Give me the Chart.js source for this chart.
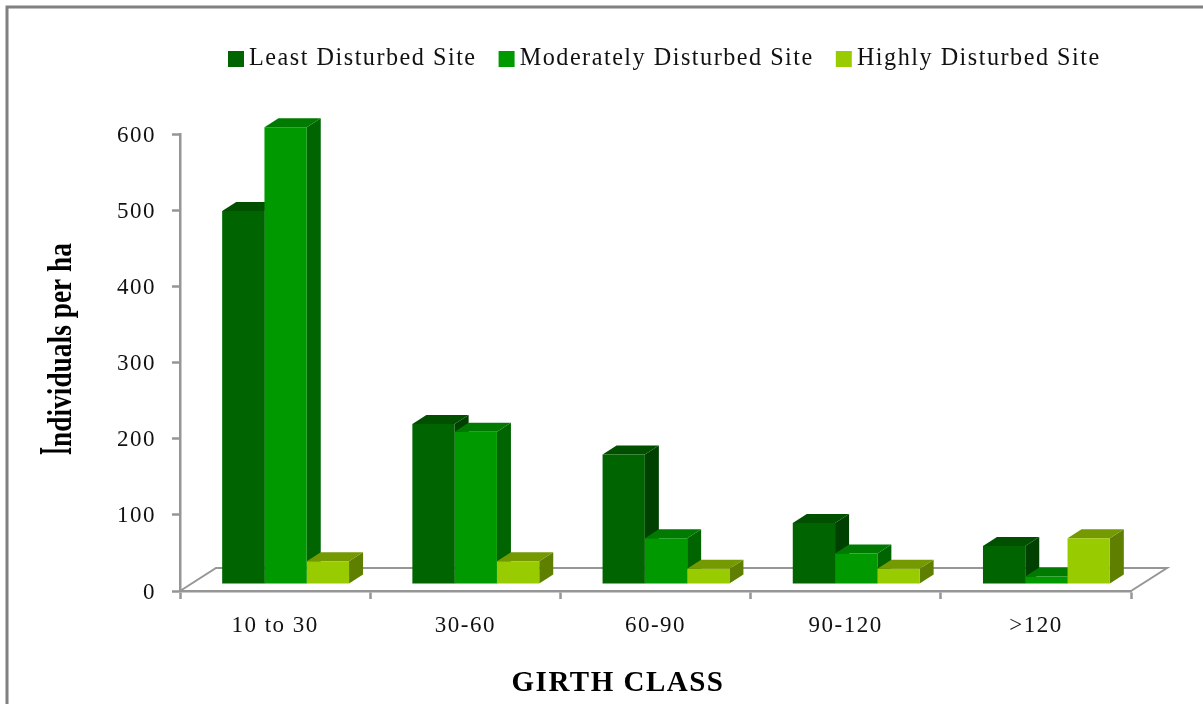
<!DOCTYPE html>
<html>
<head>
<meta charset="utf-8">
<title>Girth class</title>
<script src="https://cdn.jsdelivr.net/npm/chart.js@4"></script>
<style>
  html, body { margin: 0; padding: 0; background: #fff; }
  canvas { display: block; }
</style>
</head>
<body>
<canvas id="chart" width="1203" height="704"></canvas>
<script>
const categories = ["10 to 30", "30-60", "60-90", "90-120", ">120"];
const seriesNames = ["Least Disturbed Site", "Moderately Disturbed Site", "Highly Disturbed Site"];
const leastDisturbed = [490, 210, 170, 80, 50];
const moderatelyDisturbed = [600, 200, 60, 40, 10];
const highlyDisturbed = [30, 30, 20, 20, 60];
const yMax = 600;
const yStep = 100;
const xTitle = "GIRTH CLASS";
const yTitle = "Individuals per ha";

const frontColors = ["#006400", "#009900", "#99CC00"];
const topColors = ["#005000", "#007A00", "#759900"];
const sideColors = ["#004000", "#006400", "#5F7F00"];
const axisColor = "#969696";
const serif = "'Liberation Serif', serif";

// bars sit part way into the floor, floor itself is a skewed frame
const barShift = { x: 10.5, y: -7 };
const barDepth = { x: 14, y: -9 };
const floorDepth = { x: 36, y: -23 };

function face(ctx, color, pts) {
  ctx.fillStyle = color;
  ctx.beginPath();
  pts.forEach((p, i) => (i ? ctx.lineTo(p[0], p[1]) : ctx.moveTo(p[0], p[1])));
  ctx.closePath();
  ctx.fill();
}

const look3d = {
  id: "look3d",
  beforeUpdate(chart) {
    chart.ctx.letterSpacing = "1.5px";
  },
  afterLayout(chart) {
    chart.legend.left = 206;
    chart.legend.right = chart.width;
    chart.legend.top = 18;
  },
  beforeDraw(chart) {
    const { ctx, width, height } = chart;
    ctx.save();
    ctx.strokeStyle = "#808080";
    ctx.lineWidth = 3;
    ctx.beginPath();
    ctx.moveTo(7, height);
    ctx.lineTo(7, 7);
    ctx.lineTo(width, 7);
    ctx.stroke();
    ctx.restore();
  },
  beforeDatasetsDraw(chart) {
    const { ctx, chartArea } = chart;
    const y0 = chart.scales.y.getPixelForValue(0);
    ctx.save();
    ctx.strokeStyle = axisColor;
    ctx.lineWidth = 2;
    ctx.beginPath();
    ctx.moveTo(chartArea.left, y0);
    ctx.lineTo(chartArea.left + floorDepth.x, y0 + floorDepth.y);
    ctx.lineTo(chartArea.right + floorDepth.x, y0 + floorDepth.y);
    ctx.lineTo(chartArea.right, y0);
    ctx.stroke();

    // side and top faces first, the library paints the front faces over them
    ctx.translate(barShift.x, barShift.y);
    chart.data.datasets.forEach((ds, i) => {
      chart.getDatasetMeta(i).data.forEach((bar) => {
        const { x, y, base, width } = bar.getProps(["x", "y", "base", "width"], true);
        const r = x + width / 2;
        const l = x - width / 2;
        face(ctx, sideColors[i], [[r, y], [r + barDepth.x, y + barDepth.y], [r + barDepth.x, base + barDepth.y], [r, base]]);
        face(ctx, topColors[i], [[l, y], [l + barDepth.x, y + barDepth.y], [r + barDepth.x, y + barDepth.y], [r, y]]);
      });
    });
    ctx.restore();
  },
  beforeDatasetDraw(chart) {
    chart.ctx.save();
    chart.ctx.translate(barShift.x, barShift.y);
  },
  afterDatasetDraw(chart) {
    chart.ctx.restore();
  },
  afterDraw(chart) {
    const { ctx } = chart;
    ctx.save();
    ctx.fillStyle = "#000";
    ctx.letterSpacing = "1.5px";
    ctx.textBaseline = "alphabetic";
    ctx.textAlign = "center";
    ctx.font = "bold 29px " + serif;
    ctx.fillText(xTitle, 618, 691);

    // y title has an oversized, squeezed first letter
    ctx.letterSpacing = "0px";
    ctx.textAlign = "left";
    ctx.translate(71, 455);
    ctx.rotate(-Math.PI / 2);
    ctx.save();
    ctx.scale(0.45, 1);
    ctx.font = "bold 46px " + serif;
    ctx.fillText(yTitle[0], 0, 0);
    ctx.restore();
    ctx.translate(8, 0);
    ctx.scale(0.83, 1);
    ctx.font = "bold 33px " + serif;
    ctx.fillText(yTitle.slice(1), 0, 0);
    ctx.restore();
  },
};

new Chart(document.getElementById("chart"), {
  type: "bar",
  plugins: [look3d],
  data: {
    labels: categories,
    datasets: [leastDisturbed, moderatelyDisturbed, highlyDisturbed].map((values, i) => ({
      label: seriesNames[i],
      data: values,
      backgroundColor: frontColors[i],
      borderWidth: 0,
      clip: false,
    })),
  },
  options: {
    responsive: false,
    animation: false,
    layout: { padding: { top: 71, right: 72, left: 0, bottom: 0 } },
    categoryPercentage: 0.667,
    barPercentage: 1,
    plugins: {
      tooltip: { enabled: false },
      title: { display: false },
      legend: {
        position: "top",
        align: "start",
        labels: {
          usePointStyle: true,
          pointStyle: "rect",
          boxWidth: 2,
          boxHeight: 16,
          padding: 29,
          color: "#111",
          font: { family: serif, size: 24.2 },
        },
      },
    },
    scales: {
      x: {
        afterFit: (scale) => { scale.height = 113; },
        grid: { drawOnChartArea: false, tickLength: 8, tickWidth: 2.5, tickColor: axisColor },
        border: { color: axisColor, width: 2.5 },
        ticks: { color: "#111", padding: 13, maxRotation: 0, font: { family: serif, size: 23 } },
      },
      y: {
        min: 0,
        max: yMax,
        afterFit: (scale) => { scale.width = 180; },
        grid: { drawOnChartArea: false, tickLength: 8, tickWidth: 2.5, tickColor: axisColor },
        border: { color: axisColor, width: 2.5 },
        ticks: { stepSize: yStep, color: "#111", padding: 16, labelOffset: 1.5, font: { family: serif, size: 23 } },
      },
    },
  },
});
</script>
</body>
</html>
